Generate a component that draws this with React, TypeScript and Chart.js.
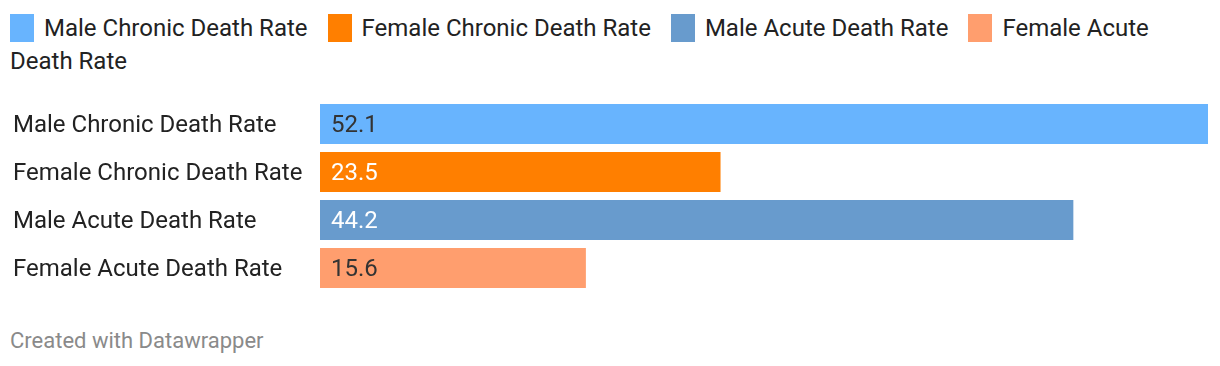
import React, { useEffect, useRef } from "react";
import { Chart, registerables } from "chart.js";

Chart.register(...registerables);

const categories = [
  "Male Chronic Death Rate",
  "Female Chronic Death Rate",
  "Male Acute Death Rate",
  "Female Acute Death Rate",
];
const values = [52.1, 23.5, 44.2, 15.6];
const barColors = ["#68b4fe", "#ff7f00", "#689bcd", "#ff9e6e"];
const valueLabelColors = ["#333333", "#ffffff", "#ffffff", "#333333"];
const footerText = "Created with Datawrapper";

const FONT = "Roboto, 'Noto Sans', sans-serif";

const labelsPlugin = {
  id: "labelsPlugin",
  afterDatasetsDraw(chart: any) {
    const ctx = chart.ctx;
    const meta = chart.getDatasetMeta(0);
    const yScale = chart.scales.y;
    ctx.save();
    ctx.font = `24px ${FONT}`;
    ctx.textAlign = "left";
    ctx.textBaseline = "middle";
    meta.data.forEach((bar: any, i: number) => {
      const y = yScale.getPixelForValue(i);
      ctx.fillStyle = "#222222";
      ctx.fillText(categories[i], 13, y + 2);
      ctx.fillStyle = valueLabelColors[i];
      ctx.fillText(values[i].toFixed(1), bar.base + 11, bar.y + 2);
    });
    ctx.restore();
  },
};

export default function App() {
  const canvasRef = useRef<HTMLCanvasElement | null>(null);

  useEffect(() => {
    if (!canvasRef.current) return;
    const chart = new Chart(canvasRef.current, {
      type: "bar",
      data: {
        labels: categories,
        datasets: [
          {
            data: values,
            backgroundColor: barColors,
            barPercentage: 40 / 48,
            categoryPercentage: 1,
            borderWidth: 0,
          },
        ],
      },
      options: {
        indexAxis: "y",
        animation: false,
        responsive: false,
        maintainAspectRatio: false,
        layout: { padding: { left: 320, right: 12, top: 0, bottom: 0 } },
        plugins: {
          legend: { display: false },
          tooltip: { enabled: false },
        },
        scales: {
          x: {
            display: false,
            min: 0,
            max: 52.1,
          },
          y: {
            display: false,
          },
        },
      },
      plugins: [labelsPlugin],
    });
    return () => chart.destroy();
  }, []);

  return (
    <div
      style={{
        position: "absolute",
        left: 0,
        top: 0,
        width: 1220,
        height: 366,
        background: "#ffffff",
        fontFamily: FONT,
        overflow: "hidden",
      }}
    >
      <div
        style={{
          position: "absolute",
          left: 10,
          top: 12,
          width: 1200,
          fontSize: 24,
          lineHeight: "33px",
          color: "#222222",
        }}
      >
        {categories.map((c, i) => (
          <span key={c}>
            <span
              style={{
                display: "inline-block",
                width: 24,
                height: 28,
                background: barColors[i],
                verticalAlign: "-6px",
                marginRight: 10,
              }}
            />
            {c}
            {i < categories.length - 1 ? (
              <span style={{ display: "inline-block", width: 20 }} />
            ) : null}
          </span>
        ))}
      </div>
      <canvas
        ref={canvasRef}
        width={1220}
        height={192}
        style={{ position: "absolute", left: 0, top: 100, width: 1220, height: 192 }}
      />
      <div
        style={{
          position: "absolute",
          left: 10,
          top: 328,
          fontSize: 22,
          lineHeight: "26px",
          color: "#8a8a8a",
        }}
      >
        {footerText}
      </div>
    </div>
  );
}
